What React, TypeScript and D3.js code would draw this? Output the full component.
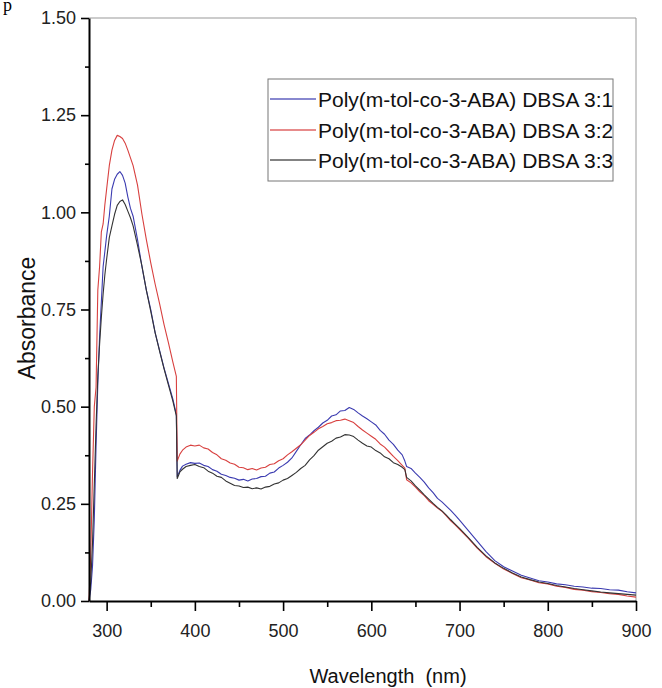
import React, { useEffect, useRef } from 'react';
import * as d3 from 'd3';

// wavelengths (nm) shared by the three spectra
const wavelengths = [
  280, 282, 284, 286, 288, 290, 292, 294, 296, 298, 300, 303, 306, 309, 312, 315, 318, 321, 324, 327,
  330, 335, 340, 345, 350, 355, 360, 365, 370, 375, 379,
  380, 383, 386, 390, 395, 400, 405, 410, 415, 420, 425, 430, 435, 440, 445, 450, 455, 460, 465, 470,
  475, 480, 485, 490, 495, 500, 505, 510, 515, 520, 525, 530, 535, 540, 545, 550, 555, 560, 565, 570,
  575, 580, 585, 590, 595, 600, 605, 610, 615, 620, 625, 630, 635,
  638, 640, 645, 650, 655, 660, 665, 670, 675, 680, 685, 690, 695, 700,
  710, 720, 730, 740, 750, 760, 770, 780, 790, 800, 810, 820, 830, 840, 850, 860, 870, 880, 890, 900,
];

const ratio31 = [
  0.0, 0.03, 0.09, 0.21, 0.4, 0.56, 0.68, 0.77, 0.86, 0.9, 0.94, 0.99, 1.06, 1.085, 1.098, 1.105, 1.095, 1.075, 1.04, 1.01,
  0.99, 0.93, 0.86, 0.8, 0.75, 0.69, 0.645, 0.6, 0.56, 0.52, 0.48,
  0.32, 0.336, 0.347, 0.352, 0.356, 0.354, 0.355, 0.349, 0.346, 0.338, 0.334, 0.326, 0.323, 0.318, 0.316, 0.311, 0.313, 0.309, 0.314, 0.315,
  0.32, 0.321, 0.329, 0.332, 0.342, 0.349, 0.357, 0.368, 0.385, 0.402, 0.418, 0.427, 0.438, 0.447, 0.458, 0.465, 0.476, 0.479, 0.489, 0.49,
  0.498, 0.493, 0.484, 0.476, 0.469, 0.461, 0.453, 0.439, 0.429, 0.414, 0.403, 0.388, 0.376,
  0.36, 0.346, 0.341, 0.329, 0.318, 0.306, 0.291, 0.279, 0.264, 0.255, 0.244, 0.233, 0.221, 0.208,
  0.181, 0.154, 0.127, 0.104, 0.088, 0.077, 0.066, 0.059, 0.052, 0.049, 0.044, 0.042, 0.038, 0.036, 0.033, 0.032, 0.029, 0.028, 0.024, 0.021,
];

const ratio32 = [
  0.0, 0.12, 0.33, 0.5, 0.55, 0.8, 0.86, 0.95, 0.97, 1.02, 1.06, 1.12, 1.16, 1.185, 1.198, 1.195, 1.19, 1.178, 1.16, 1.14,
  1.12, 1.07, 0.995, 0.93, 0.87, 0.815, 0.765, 0.712, 0.665, 0.615, 0.578,
  0.36, 0.378, 0.388, 0.396, 0.401, 0.399, 0.401, 0.394, 0.391, 0.382, 0.376, 0.366, 0.362, 0.355, 0.352, 0.344, 0.343, 0.338, 0.341, 0.337,
  0.342, 0.344, 0.351, 0.353, 0.361, 0.366, 0.376, 0.384, 0.393, 0.402, 0.414, 0.426, 0.434, 0.443, 0.449, 0.456, 0.459, 0.464, 0.465, 0.468,
  0.464, 0.459, 0.449, 0.44, 0.432, 0.424, 0.416, 0.404, 0.396, 0.384, 0.372, 0.361, 0.349,
  0.342, 0.312, 0.304, 0.293, 0.281, 0.271, 0.258, 0.249, 0.239, 0.231, 0.219, 0.206, 0.196, 0.184,
  0.161, 0.136, 0.114, 0.097, 0.082, 0.071, 0.06, 0.054, 0.047, 0.044, 0.038, 0.035, 0.03, 0.028, 0.024, 0.022, 0.019, 0.017, 0.013, 0.01,
];

const ratio33 = [
  0.0, 0.05, 0.15, 0.3, 0.45, 0.58, 0.66, 0.73, 0.79, 0.84, 0.88, 0.935, 0.965, 0.995, 1.018, 1.028, 1.032, 1.02, 1.003, 0.986,
  0.965, 0.915, 0.862, 0.8, 0.745, 0.69, 0.643, 0.598, 0.556, 0.515, 0.476,
  0.315, 0.332, 0.339, 0.346, 0.349, 0.351, 0.346, 0.343, 0.334, 0.329, 0.321, 0.318, 0.309, 0.303, 0.297, 0.296, 0.292, 0.293, 0.289, 0.291,
  0.288, 0.293, 0.295, 0.301, 0.304, 0.311, 0.315, 0.323, 0.331, 0.341, 0.349, 0.363, 0.374, 0.388, 0.397, 0.406, 0.411, 0.419, 0.422, 0.428,
  0.427, 0.423, 0.414, 0.406, 0.399, 0.396, 0.387, 0.381, 0.371, 0.366, 0.356, 0.351, 0.344,
  0.338, 0.318, 0.309, 0.296, 0.285, 0.273, 0.262, 0.251, 0.241, 0.232, 0.221, 0.209, 0.198, 0.187,
  0.163, 0.138, 0.116, 0.098, 0.084, 0.072, 0.062, 0.055, 0.049, 0.045, 0.04, 0.036, 0.032, 0.029, 0.026, 0.023, 0.021, 0.019, 0.017, 0.015,
];

const seriesNames = [
  'Poly(m-tol-co-3-ABA) DBSA 3:1',
  'Poly(m-tol-co-3-ABA) DBSA 3:2',
  'Poly(m-tol-co-3-ABA) DBSA 3:3',
];
const seriesValues = [ratio31, ratio32, ratio33];
const seriesColors = ['#3b3bb0', '#d8403f', '#333333'];

const xTicks = [300, 400, 500, 600, 700, 800, 900];
const yTicks = [0, 0.25, 0.5, 0.75, 1.0, 1.25, 1.5];

const W = 662;
const H = 688;
const left = 89;
const right = 636;
const top = 18;
const bottom = 601;

const App = () => {
  const xAxisRef = useRef<SVGGElement>(null);
  const yAxisRef = useRef<SVGGElement>(null);

  const x = d3.scaleLinear().domain([280, 900]).range([left, right]);
  const y = d3.scaleLinear().domain([0, 1.5]).range([bottom, top]);

  const line = d3
    .line<number>()
    .x((d, i) => x(wavelengths[i]))
    .y((d) => y(d));

  useEffect(() => {
    const font = 'Liberation Sans, Arial, sans-serif';

    // bottom axis: major + minor ticks
    const gx = d3.select(xAxisRef.current);
    gx.selectAll('*').remove();
    gx.append('g')
      .call(d3.axisBottom(x).tickValues([350, 450, 550, 650, 750, 850]).tickSize(6).tickFormat(() => ''))
      .call((g) => g.select('.domain').remove());
    gx.append('g')
      .call(d3.axisBottom(x).tickValues(xTicks).tickSize(10).tickSizeOuter(0).tickPadding(13).tickFormat(d3.format('d')));
    gx.selectAll('line').attr('stroke', '#000').attr('stroke-width', 1.6);
    gx.selectAll('.domain').attr('stroke', '#000').attr('stroke-width', 2);
    gx.selectAll('text').attr('font-family', font).attr('font-size', 18).attr('fill', '#222');

    // left axis: major + minor ticks
    const gy = d3.select(yAxisRef.current);
    gy.selectAll('*').remove();
    gy.append('g')
      .call(d3.axisLeft(y).tickValues([0.125, 0.375, 0.625, 0.875, 1.125, 1.375]).tickSize(4).tickFormat(() => ''))
      .call((g) => g.select('.domain').remove());
    gy.append('g')
      .call(d3.axisLeft(y).tickValues(yTicks).tickSize(8).tickSizeOuter(0).tickPadding(5).tickFormat(d3.format('.2f')));
    gy.selectAll('line').attr('stroke', '#000').attr('stroke-width', 1.6);
    gy.selectAll('.domain').attr('stroke', '#000').attr('stroke-width', 2);
    gy.selectAll('text').attr('font-family', font).attr('font-size', 18).attr('fill', '#222');
  }, []);

  const legendX = 268;
  const legendY = 79;
  const rowH = 30.5;

  return (
    <svg
      width={W}
      height={H}
      style={{ position: 'absolute', left: 0, top: 0, background: '#fff' }}
      fontFamily="Liberation Sans, Arial, sans-serif"
    >
      <text x={3} y={11} fontFamily="Liberation Serif, Times New Roman, serif" fontSize={18} fill="#000">
        p
      </text>

      {/* frame: top and right sides in light grey */}
      <line x1={left} x2={right} y1={top} y2={top} stroke="#999" strokeWidth={1} />
      <line x1={right} x2={right} y1={top} y2={bottom} stroke="#999" strokeWidth={1} />

      <g>
        {seriesValues.map((vals, i) => (
          <path key={i} d={line(vals) || ''} fill="none" stroke={seriesColors[i]} strokeWidth={1.1} strokeLinejoin="round" />
        ))}
      </g>

      <g ref={xAxisRef} transform={`translate(0,${bottom})`} />
      <g ref={yAxisRef} transform={`translate(${left},0)`} />

      {/* legend */}
      <rect x={legendX} y={legendY} width={345} height={102} fill="#fff" stroke="#777" strokeWidth={1} />
      {seriesNames.map((name, i) => {
        const cy = Math.round(legendY + 20 + i * rowH);
        return (
          <g key={name}>
            <rect x={legendX + 2} y={cy - 0.6} width={46} height={1.2} fill={seriesColors[i]} />
            <text x={legendX + 50} y={cy + 7.5} fontSize={21} fill="#111">
              {name}
            </text>
          </g>
        );
      })}

      <text x={388} y={683} textAnchor="middle" fontSize={20} fill="#111" style={{ whiteSpace: 'pre' }}>
        {'Wavelength  (nm)'}
      </text>
      <text
        transform="translate(35,318) rotate(-90)"
        textAnchor="middle"
        fontSize={23}
        fill="#111"
      >
        Absorbance
      </text>
    </svg>
  );
};

export default App;
